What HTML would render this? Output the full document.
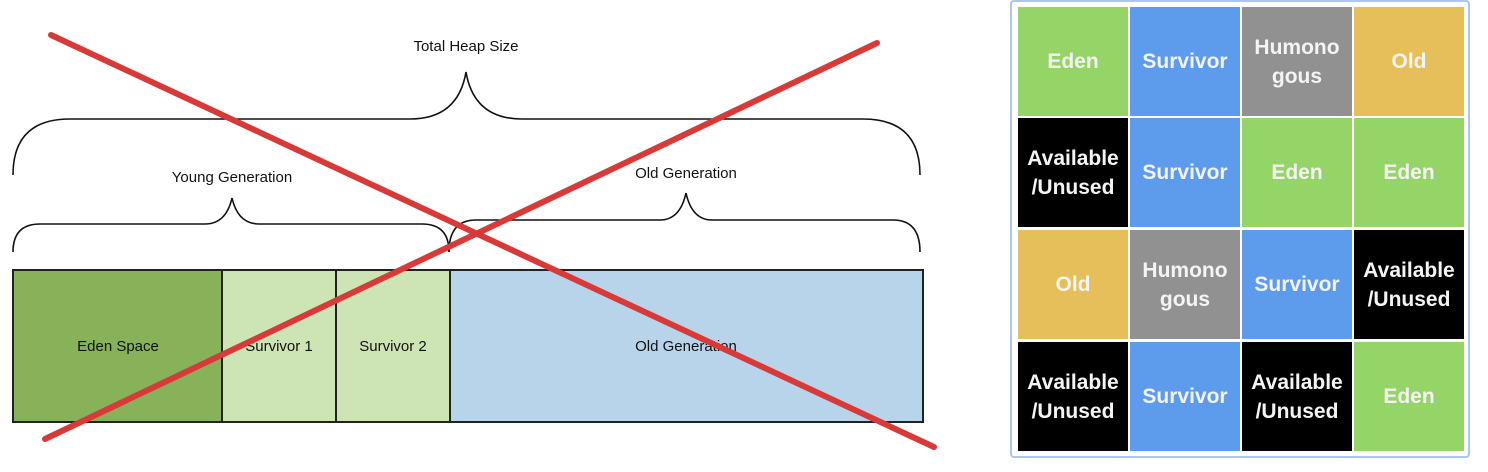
<!DOCTYPE html>
<html><head><meta charset="utf-8"><style>
body{margin:0;width:1488px;height:472px;background:#fff;position:relative;overflow:hidden;font-family:"Liberation Sans",sans-serif}
.g{position:absolute;left:1010px;top:0;width:460px;height:458px;border:2px solid #a9c8f0;border-radius:4px;box-sizing:border-box}
.c{position:absolute;width:110px;height:109px;display:flex;align-items:center;justify-content:center;text-align:center;color:#f4f4f4;font-size:21px;line-height:29px;font-weight:bold}
.E{background:#95d567}.S{background:#5d9cec}.H{background:#919191}.O{background:#e6bf5a}.A{background:#000}
</style></head><body>
<svg width="1000" height="472" style="position:absolute;left:0;top:0" font-family="Liberation Sans, sans-serif" font-size="15">
<rect x="13" y="270" width="209" height="152" fill="#87b25a" stroke="#222" stroke-width="2"/>
<rect x="222" y="270" width="114" height="152" fill="#cde5b5" stroke="#222" stroke-width="2"/>
<rect x="336" y="270" width="114" height="152" fill="#cde5b5" stroke="#222" stroke-width="2"/>
<rect x="450" y="270" width="473" height="152" fill="#b8d4ea" stroke="#222" stroke-width="2"/>
<g text-anchor="middle" fill="#111">
<text x="118" y="351">Eden Space</text><text x="279" y="351">Survivor 1</text><text x="393" y="351">Survivor 2</text><text x="686" y="351">Old Generation</text>
<text x="466" y="51">Total Heap Size</text><text x="232" y="182">Young Generation</text><text x="686" y="178">Old Generation</text></g>
<g fill="none" stroke="#111" stroke-width="1.6">
<path d="M13,175 Q13,119 70,119 L410,119 Q458,119 466,72 Q474,119 522,119 L863,119 Q920,119 920,175"/>
<path d="M13,252 Q13,224 40,224 L205,224 Q226,224 232,198 Q238,224 259,224 L422,224 Q449,224 449,252"/>
<path d="M449,252 Q449,220 476,220 L660,220 Q680,220 686,193 Q692,220 712,220 L893,220 Q920,220 920,252"/>
</g>
<g stroke="#d83a39" stroke-width="6" stroke-linecap="round">
<line x1="51" y1="35" x2="934" y2="447"/><line x1="45" y1="439" x2="877" y2="43"/></g>
</svg>
<div class="g"></div>
<div class="c E" style="left:1018px;top:7px">Eden</div>
<div class="c S" style="left:1130px;top:7px">Survivor</div>
<div class="c H" style="left:1242px;top:7px">Humono<br>gous</div>
<div class="c O" style="left:1354px;top:7px">Old</div>
<div class="c A" style="left:1018px;top:118px">Available<br>/Unused</div>
<div class="c S" style="left:1130px;top:118px">Survivor</div>
<div class="c E" style="left:1242px;top:118px">Eden</div>
<div class="c E" style="left:1354px;top:118px">Eden</div>
<div class="c O" style="left:1018px;top:230px">Old</div>
<div class="c H" style="left:1130px;top:230px">Humono<br>gous</div>
<div class="c S" style="left:1242px;top:230px">Survivor</div>
<div class="c A" style="left:1354px;top:230px">Available<br>/Unused</div>
<div class="c A" style="left:1018px;top:342px">Available<br>/Unused</div>
<div class="c S" style="left:1130px;top:342px">Survivor</div>
<div class="c A" style="left:1242px;top:342px">Available<br>/Unused</div>
<div class="c E" style="left:1354px;top:342px">Eden</div>
</body></html>
